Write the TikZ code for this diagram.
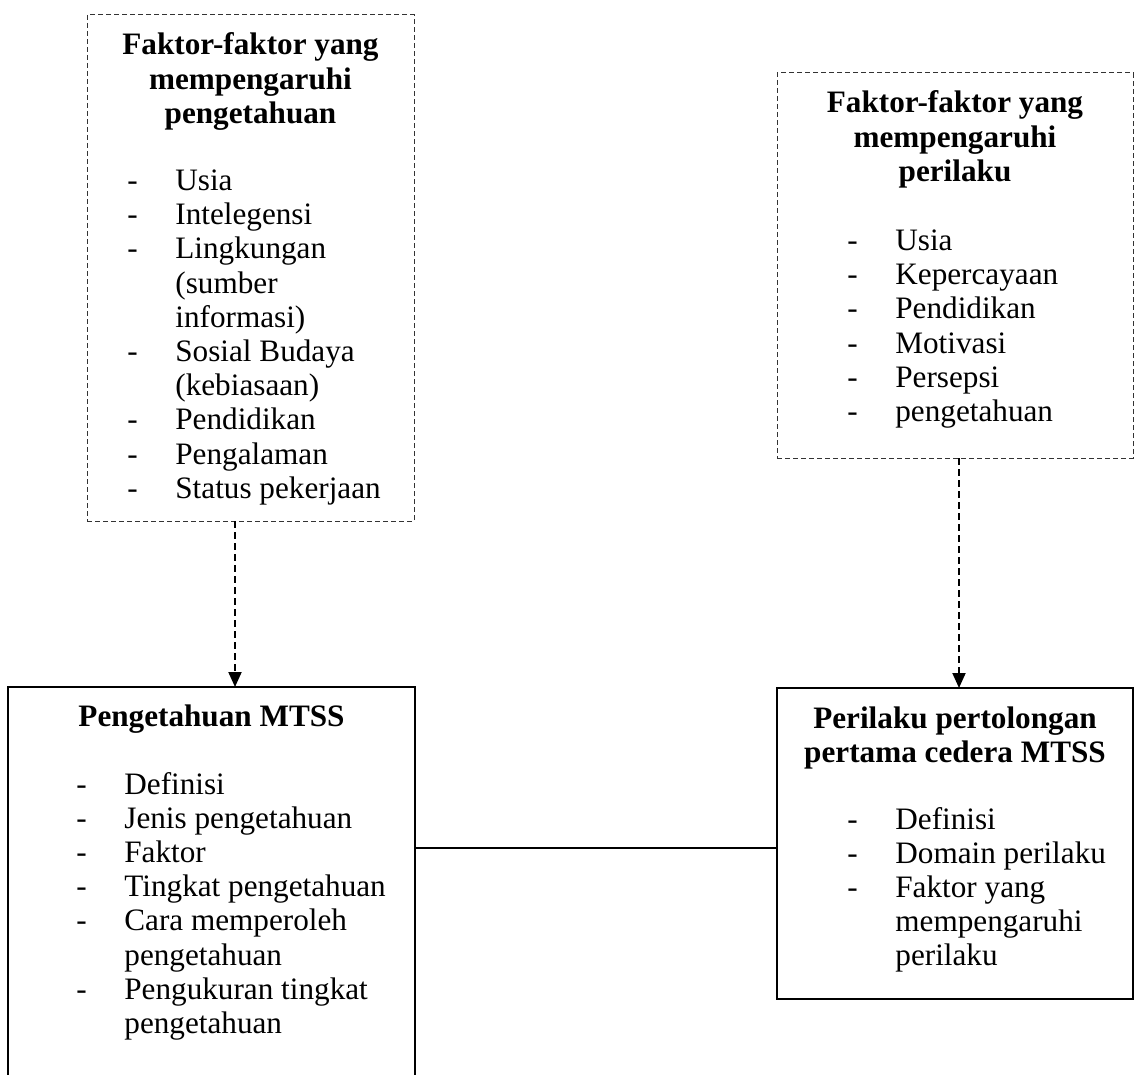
\documentclass[tikz,border=0pt]{standalone}
\usepackage{fontspec}
\setmainfont{Liberation Serif}
\usetikzlibrary{positioning,arrows.meta}
\newcommand{\dashitem}[1]{\makebox[24pt][l]{-}#1}
\newcommand{\dashcont}[1]{\hspace*{24pt}#1}

\begin{document}
\begin{tikzpicture}[x=0.5pt,y=-0.5pt,
			txt/.style={font=\fontsize{15.6pt}{17.1pt}\selectfont,inner sep=0pt},
			heading/.style={txt,font=\fontsize{15.6pt}{17.1pt}\selectfont\bfseries,align=center},
			items/.style={txt,align=left},
			factorbox/.style={draw=black!80,line width=0.5pt,dash pattern=on 2.5pt off 1.5pt,inner sep=0pt,outer sep=0pt,anchor=north west},
			mainbox/.style={draw,line width=0.75pt,inner sep=0pt,outer sep=0pt,anchor=north west},
			influence/.style={line width=1pt,dash pattern=on 3.5pt off 2pt,-{Triangle[length=7.5pt,width=6.5pt]}}]
			\path [use as bounding box,clip] (0,0) rectangle (1135,1075);

			\node (knowfac) [factorbox,minimum width=163.5pt,minimum height=253pt] at (87,15) {};
			\node (behavfac) [factorbox,minimum width=178pt,minimum height=192.5pt] at (777,73) {};
			\node (know) [mainbox,minimum width=203.5pt,minimum height=210pt] at (8,687) {};
			\node (behav) [mainbox,minimum width=178pt,minimum height=155.5pt] at (777,688) {};

			\node (knowfachead) [heading,below=8.75pt of knowfac.north] {Faktor-faktor yang\\mempengaruhi\\pengetahuan};
			\node (knowfaclist) [items,below right=77.2pt and 20pt of knowfac.north west] {
				\dashitem{Usia}\\
				\dashitem{Intelegensi}\\
				\dashitem{Lingkungan}\\
				\dashcont{(sumber}\\
				\dashcont{informasi)}\\
				\dashitem{Sosial Budaya}\\
				\dashcont{(kebiasaan)}\\
				\dashitem{Pendidikan}\\
				\dashitem{Pengalaman}\\
				\dashitem{Status pekerjaan}};

			\node (behavfachead) [heading,below=8.75pt of behavfac.north] {Faktor-faktor yang\\mempengaruhi\\perilaku};
			\node (behavfaclist) [items,below right=78.2pt and 35pt of behavfac.north west] {
				\dashitem{Usia}\\
				\dashitem{Kepercayaan}\\
				\dashitem{Pendidikan}\\
				\dashitem{Motivasi}\\
				\dashitem{Persepsi}\\
				\dashitem{pengetahuan}};

			\node (knowhead) [heading,below=8.5pt of know.north] {Pengetahuan MTSS};
			\node (knowlist) [items,below right=42.4pt and 34pt of know.north west] {
				\dashitem{Definisi}\\
				\dashitem{Jenis pengetahuan}\\
				\dashitem{Faktor}\\
				\dashitem{Tingkat pengetahuan}\\
				\dashitem{Cara memperoleh}\\
				\dashcont{pengetahuan}\\
				\dashitem{Pengukuran tingkat}\\
				\dashcont{pengetahuan}};

			\node (behavhead) [heading,below=9pt of behav.north] {Perilaku pertolongan\\pertama cedera MTSS};
			\node (behavlist) [items,below right=59.4pt and 35pt of behav.north west] {
				\dashitem{Definisi}\\
				\dashitem{Domain perilaku}\\
				\dashitem{Faktor yang}\\
				\dashcont{mempengaruhi}\\
				\dashcont{perilaku}};

			\draw [influence] ([xshift=-7.75pt]knowfac.south) -- ([xshift=-7.75pt]knowfac.south |- know.north);
			\draw [influence] ([xshift=2pt]behavfac.south) -- ([xshift=2pt]behavfac.south |- behav.north);
			\draw [line width=0.75pt] ([yshift=-2.25pt]behav.west) -- ([yshift=-2.25pt]behav.west -| know.east);
		\end{tikzpicture}
\end{document}
